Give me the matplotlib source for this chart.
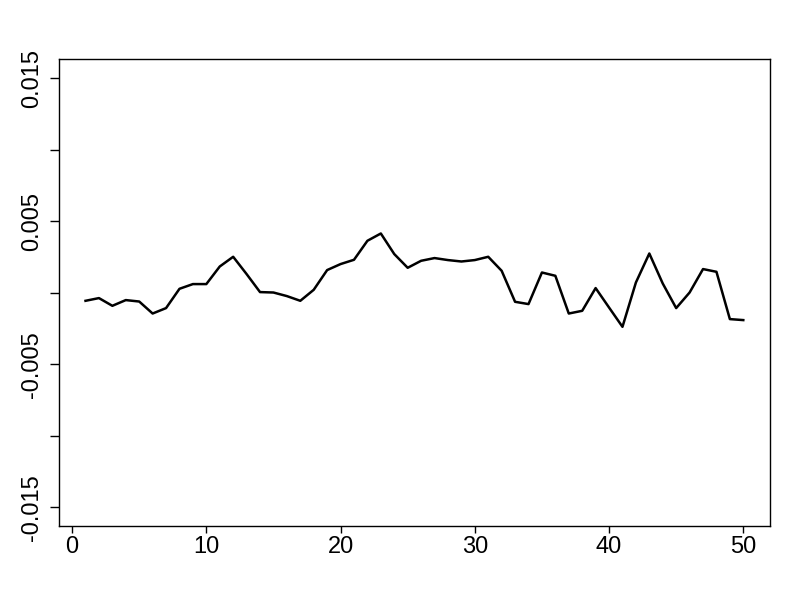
import numpy as np
import matplotlib
matplotlib.use("Agg")
import matplotlib.pyplot as plt

# series (index 1..50)
index = np.arange(1, 51)
values = [
    -0.00056, -0.00037, -0.00091, -0.00051, -0.00061, -0.00145, -0.00107, 0.00028, 0.00061, 0.00061,
    0.00184, 0.00252, 0.00131, 0.00005, 0.00002, -0.00023, -0.00056, 0.00021, 0.00159, 0.00201,
    0.00231, 0.00364, 0.00415, 0.00271, 0.00175, 0.00224, 0.00243, 0.00229, 0.00219, 0.00229,
    0.00252, 0.00154, -0.00063, -0.00079, 0.00142, 0.00119, -0.00145, -0.00126, 0.00033, -0.00103,
    -0.00238, 0.00072, 0.00275, 0.00065, -0.00107, 0.00002, 0.00166, 0.00147, -0.00184, -0.00191,
]

x_ticks = [0, 10, 20, 30, 40, 50]
y_ticks = [-0.015, -0.01, -0.005, 0.0, 0.005, 0.01, 0.015]
y_labels = ["-0.015", "", "-0.005", "", "0.005", "", "0.015"]

plt.rcParams['font.family'] = ['Liberation Sans', 'DejaVu Sans']

fig = plt.figure(figsize=(8, 6), dpi=100)
ax = fig.add_axes([0.074, 0.123, 0.888, 0.778])

ax.plot(index, values, color='black', linewidth=1.8)

ax.set_xlim(-0.96, 51.96)
ax.set_ylim(-0.01633, 0.01633)

ax.set_xticks(x_ticks)
ax.set_xticklabels([str(t) for t in x_ticks])
ax.set_yticks(y_ticks)
ax.set_yticklabels(y_labels, rotation=90, va='center')

ax.tick_params(axis='x', labelsize=17, length=5.3, width=1, pad=2, color='black')
ax.tick_params(axis='y', labelsize=17, length=6.7, width=1, pad=5, color='black')

for s in ax.spines.values():
    s.set_linewidth(1)
    s.set_color('black')

fig.savefig("out.png", dpi=100, facecolor='white')
